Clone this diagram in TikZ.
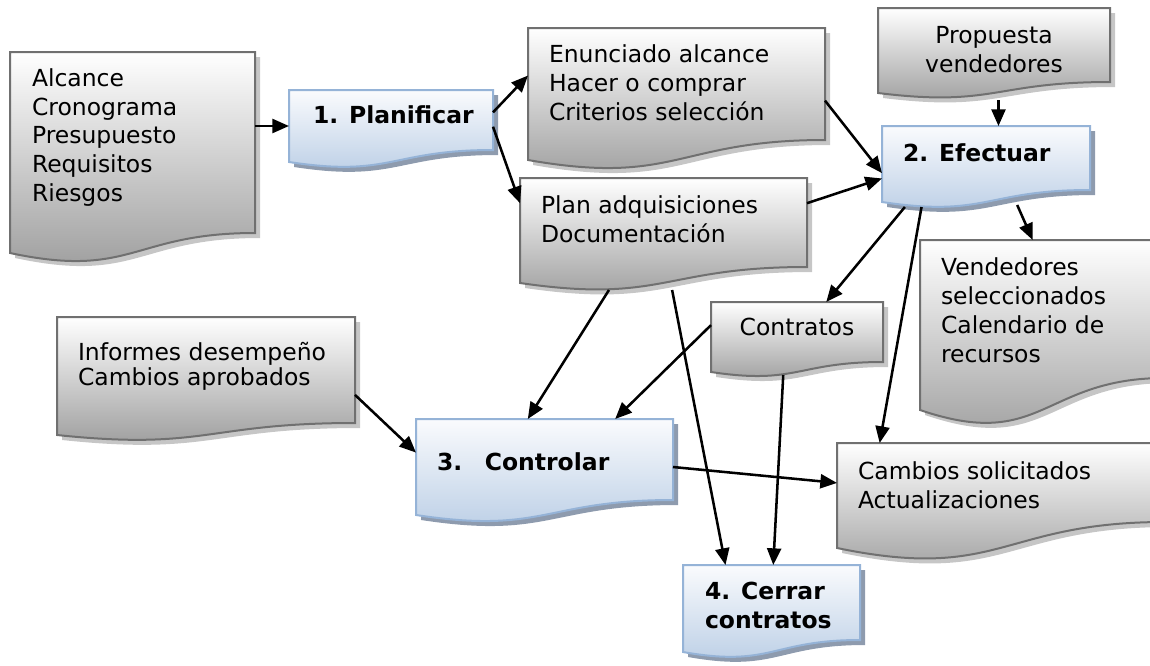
\documentclass[tikz,border=0pt]{standalone}
\usepackage{fontspec}
\setmainfont{DejaVu Sans}
\usetikzlibrary{arrows.meta,calc,fit}
\definecolor{docborder}{HTML}{707070}
\definecolor{docbottom}{HTML}{9A9A9A}
\definecolor{docshadowc}{HTML}{C6C6C6}
\definecolor{blueborder}{HTML}{95B3D7}
\definecolor{bluetop}{HTML}{FAFBFD}
\definecolor{bluebottom}{HTML}{B9CDE5}
\definecolor{blueshadowc}{HTML}{8E9BAE}
\tikzset{
  graydoc/.style={draw=docborder, line width=1.5pt, top color=white, bottom color=docbottom},
  grayshadow/.style={fill=docshadowc},
  bluedoc/.style={draw=blueborder, line width=1.5pt, top color=bluetop, bottom color=bluebottom},
  blueshadow/.style={fill=blueshadowc},
  txt/.style={font=\fontsize{17.6pt}{21.4pt}\selectfont, align=left, inner sep=0pt, outer sep=0pt, anchor=base west},
  ttl/.style={font=\fontsize{17.6pt}{21.4pt}\selectfont\bfseries, align=left, inner sep=0pt, outer sep=0pt, anchor=base west},
  arr/.style={line width=1.9pt, -{Triangle[length=12.5pt,width=10.5pt]}},
}
\newcommand\docbox[7]{%
  \pgfmathsetmacro\dbxm{(#3+#5)/2}%
  \pgfmathsetmacro\dbyc{#7+2.31*(#6-#7)}%
  \fill[#1shadow] (#3+5,#4+5) -- (#5+5,#4+5) -- (#5+5,#7+5) .. controls (\dbxm+5,#7+5) and (\dbxm+5,\dbyc+5) .. (#3+5,#6+5) -- cycle;
  \path[#1doc] (#3,#4) -- (#5,#4) -- (#5,#7) .. controls (\dbxm,#7) and (\dbxm,\dbyc) .. (#3,#6) -- cycle;
  \node[fit={(#3,#4) (#5,#6)}, inner sep=0pt, outer sep=0pt] (#2) {};
}
\begin{document}
\begin{tikzpicture}[x=0.75pt,y=-0.75pt]
\useasboundingbox (0,0) rectangle (1150,665);
% boxes
\docbox{gray}{A}{10}{52}{255}{253}{233}
\docbox{blue}{P1}{289}{90}{493}{162}{150}
\docbox{gray}{E}{528}{28}{825}{160}{140}
\docbox{gray}{PA}{520}{178}{807}{283}{267}
\docbox{gray}{PV}{878}{8}{1110}{93}{82}
\docbox{blue}{P2}{882}{126}{1090}{202}{190}
\docbox{gray}{VS}{920}{240}{1165}{410}{378}
\docbox{gray}{C}{711}{302}{883}{372}{362}
\docbox{gray}{CS}{837}{443}{1165}{548}{522}
\docbox{gray}{IN}{57}{317}{355}{435}{423}
\docbox{blue}{P3}{416}{419}{673}{515}{500}
\docbox{blue}{P4}{683}{565}{860}{652}{640}
% texts (anchored at the baseline of the last line)
\node[txt] (At) at (32,201) {Alcance\\Cronograma\\Presupuesto\\Requisitos\\Riesgos};
\node[ttl] (P1t) at (313,123) {1. Planificar};
\node[txt] (Et) at (549,120) {Enunciado alcance\\Hacer o comprar\\Criterios selección};
\node[txt] (PAt) at (541,242) {Plan adquisiciones\\Documentación};
\node[txt, align=center, anchor=base] (PVt) at (994,72) {Propuesta\\vendedores};
\node[ttl] (P2t) at (903,161) {2. Efectuar};
\node[txt, font=\fontsize{17.6pt}{21.75pt}\selectfont] (VSt) at (941,362) {Vendedores\\seleccionados\\Calendario de\\recursos};
\node[txt, anchor=base] (Ct) at (797,335) {Contratos};
\node[txt] (CSt) at (858,508) {Cambios solicitados\\Actualizaciones};
\node[txt, font=\fontsize{17.6pt}{18.75pt}\selectfont] (INt) at (78,385) {Informes desempeño\\Cambios aprobados};
\node[ttl] (P3t) at (437,470) {3.\hspace{17pt}Controlar};
\node[ttl] (P4t) at (705,628) {4. Cerrar\\contratos};
% connectors
\draw[arr] (A.east |- P1.west) -- (P1.west);
\draw[arr] ($(P1.north east)!0.31!(P1.south east)$) -- ($(E.north west)!0.36!(E.south west)$);
\draw[arr] ($(P1.north east)!0.51!(P1.south east)$) -- ($(PA.north west)!0.24!(PA.south west)$);
\draw[arr] ($(E.north east)!0.55!(E.south east)$) -- ($(P2.north west)!0.62!(P2.south west)$);
\draw[arr] ($(PA.north east)!0.24!(PA.south east)$) -- ($(P2.north west)!0.69!(P2.south west)$);
\coordinate (p2t) at ($(P2.north west)!0.56!(P2.north east)$);
\draw[arr] ($(p2t |- PV.south)+(0,7)$) -- (p2t);
\draw[arr] ($(P2.south west)!0.65!(P2.south east)+(0,3)$) -- ($(VS.north west)!0.46!(VS.north east)$);
\draw[arr] ($(P2.south west)!0.11!(P2.south east)+(0,5)$) -- ($(C.north west)!0.67!(C.north east)$);
\draw[arr] ($(P2.south west)!0.19!(P2.south east)+(0,5)$) -- ($(CS.north west)!0.13!(CS.north east)$);
\draw[arr] ($(PA.south west)!0.31!(PA.south east)+(0,7)$) -- ($(P3.north west)!0.435!(P3.north east)$);
\draw[arr] ($(PA.south west)!0.53!(PA.south east)+(0,7)$) -- ($(P4.north west)!0.24!(P4.north east)$);
\draw[arr] ($(C.north west)!0.33!(C.south west)$) -- ($(P3.north west)!0.775!(P3.north east)$);
\draw[arr] ($(C.south west)!0.42!(C.south east)+(0,3)$) -- ($(P4.north west)!0.51!(P4.north east)$);
\draw[arr] ($(IN.north east)!0.66!(IN.south east)$) -- ($(P3.north west)!0.35!(P3.south west)$);
\draw[arr] (P3.east) -- ($(CS.north west)!0.38!(CS.south west)$);
\end{tikzpicture}
\end{document}
